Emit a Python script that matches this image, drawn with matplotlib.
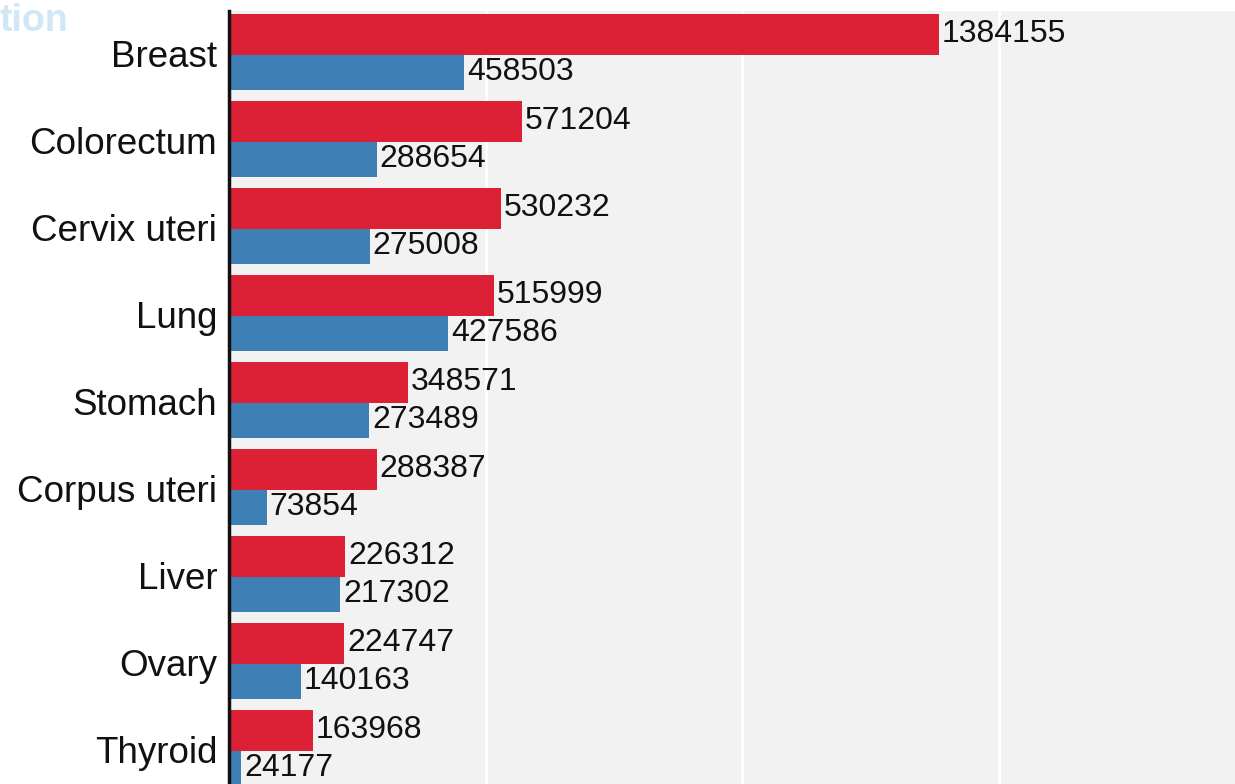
import matplotlib
matplotlib.use("Agg")
import matplotlib.pyplot as plt
import numpy as np

# Estimated new cases and deaths by cancer site
sites = ["Breast", "Colorectum", "Cervix uteri", "Lung", "Stomach",
         "Corpus uteri", "Liver", "Ovary", "Thyroid"]
incidence = [1384155, 571204, 530232, 515999, 348571, 288387, 226312, 224747, 163968]
mortality = [458503, 288654, 275008, 427586, 273489, 73854, 217302, 140163, 24177]

RED = "#dc2035"
BLUE = "#3e80b5"

plt.rcParams["font.family"] = ["Liberation Sans", "DejaVu Sans"]

W, H = 1235, 784
fig = plt.figure(figsize=(W / 100, H / 100), dpi=100)
ax = fig.add_axes([229 / W, 0, 1 - 229 / W, 1 - 11 / H])
ax.set_facecolor("#f2f2f2")

y = np.arange(len(sites))
red_h, blue_h = 0.47, 0.40
ax.barh(y - 0.45 + red_h / 2, incidence, height=red_h, color=RED, zorder=3)
ax.barh(y + 0.023 + blue_h / 2, mortality, height=blue_h, color=BLUE, zorder=3)

for yi, v in zip(y, incidence):
    ax.annotate(str(v), (v, yi - 0.45 + red_h / 2), xytext=(2, 0),
                textcoords="offset points", va="center", ha="left",
                fontsize=23, color="#111111", zorder=4)
for yi, v in zip(y, mortality):
    ax.annotate(str(v), (v, yi + 0.023 + blue_h / 2), xytext=(2, 0),
                textcoords="offset points", va="center", ha="left",
                fontsize=23, color="#111111", zorder=4)

ax.set_xlim(0, 1006 / 256.5 * 500000)
ax.set_ylim(8.402, -0.483)
ax.set_xticks([500000, 1000000, 1500000])
ax.xaxis.grid(True, color="white", linewidth=2, zorder=1)
ax.tick_params(axis="x", length=0, labelbottom=False)
ax.set_yticks(y)
ax.set_yticklabels(sites, fontsize=26.5, color="#111111")
ax.tick_params(axis="y", length=0, pad=8.5)

for s in ("top", "right", "bottom"):
    ax.spines[s].set_visible(False)
ax.spines["left"].set_linewidth(2.5)
ax.spines["left"].set_color("#111111")
ax.spines["left"].set_zorder(5)

fig.text(0.0, 0.996, "tion", fontsize=27, fontweight="bold",
         color="#cfe7f6", ha="left", va="top")

fig.savefig("out.png", dpi=100)
